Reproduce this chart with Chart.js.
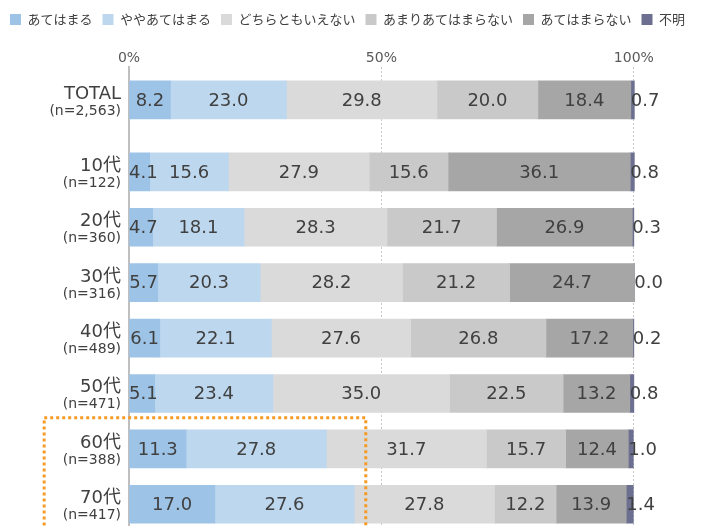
<!DOCTYPE html>
<html><head><meta charset="utf-8">
<script src="https://cdn.jsdelivr.net/npm/chart.js@4/dist/chart.umd.min.js"></script>
<style>html,body{margin:0;padding:0;overflow:hidden;background:#fff}#wrap{width:702px;height:532px}</style>
</head><body><div id="wrap"><canvas id="c" width="702" height="532"></canvas></div>
<script>
// ---- data ----
const totalLabel = ['TOTAL'];
const totalN = ['(n=2,563)'];
const ageLabels = ['10代', '20代', '30代', '40代', '50代', '60代', '70代'];
const ageN = ['(n=122)', '(n=360)', '(n=316)', '(n=489)', '(n=471)', '(n=388)', '(n=417)'];
const seriesNames = ['あてはまる', 'ややあてはまる', 'どちらともいえない', 'あまりあてはまらない', 'あてはまらない', '不明'];
// index 0 = TOTAL, then 10代 … 70代
const atehamaru      = [8.2, 4.1, 4.7, 5.7, 6.1, 5.1, 11.3, 17.0];
const yayaAtehamaru  = [23.0, 15.6, 18.1, 20.3, 22.1, 23.4, 27.8, 27.6];
const dochiramo      = [29.8, 27.9, 28.3, 28.2, 27.6, 35.0, 31.7, 27.8];
const amariAtehamaranai = [20.0, 15.6, 21.7, 21.2, 26.8, 22.5, 15.7, 12.2];
const atehamaranai   = [18.4, 36.1, 26.9, 24.7, 17.2, 13.2, 12.4, 13.9];
const fumei          = [0.7, 0.8, 0.3, 0.0, 0.2, 0.8, 1.0, 1.4];
const xTickValues = [0, 50, 100];

// ---- styles ----
const seriesValues = [atehamaru, yayaAtehamaru, dochiramo, amariAtehamaranai, atehamaranai, fumei];
const colors = ['#9DC3E6', '#BDD7EE', '#DADADA', '#C9C9C9', '#A6A6A6', '#6C6F8F'];
const highlightX = [-16.8, 46.9];
const highlightRows = [4.44, 6.7];

const datasets = seriesNames.map((name, k) => ({
  label: name, data: [seriesValues[k][0]], yAxisID: 'yTotal', stack: 'all', grouped: false,
  backgroundColor: colors[k], barThickness: 38, borderWidth: 0
})).concat(seriesNames.map((name, k) => ({
  label: name, data: seriesValues[k].slice(1), yAxisID: 'yAge', stack: 'all', grouped: false,
  backgroundColor: colors[k], barThickness: 38, borderWidth: 0
})));

const FONT_NUM = "'DejaVu Sans', 'Noto Sans CJK JP', sans-serif";

const valueLabels = {
  id: 'valueLabels',
  afterDatasetsDraw(chart) {
    const ctx = chart.ctx, area = chart.chartArea;
    ctx.save();
    ctx.font = '18px ' + FONT_NUM;
    ctx.fillStyle = '#404040';
    ctx.textBaseline = 'middle';
    chart.data.datasets.forEach((ds, di) => {
      const meta = chart.getDatasetMeta(di);
      const k = di % seriesNames.length;
      meta.data.forEach((bar, i) => {
        const txt = Number(ds.data[i]).toFixed(1);
        const p = bar.getProps(['x', 'y', 'base'], true);
        if (k === seriesNames.length - 1) {
          ctx.textAlign = 'left';
          ctx.fillText(txt, p.base, p.y + 1);
        } else {
          const w = ctx.measureText(txt).width;
          let cx = (p.x + p.base) / 2;
          cx = Math.max(cx, area.left + w / 2);
          ctx.textAlign = 'center';
          ctx.fillText(txt, cx, p.y + 1);
        }
      });
    });
    ctx.restore();
  }
};

const rowLabels = {
  id: 'rowLabels',
  afterDraw(chart) {
    const ctx = chart.ctx;
    const x = chart.chartArea.left - 8;
    ctx.save();
    ctx.fillStyle = '#404040';
    ctx.textAlign = 'right';
    ctx.textBaseline = 'alphabetic';
    [[chart.scales.yTotal, totalLabel, totalN], [chart.scales.yAge, ageLabels, ageN]].forEach(([sc, l1, l2]) => {
      l1.forEach((t, i) => {
        const y = sc.getPixelForValue(i);
        ctx.font = '18px ' + FONT_NUM;
        ctx.fillText(t, x, y - 1);
        ctx.font = '14px ' + FONT_NUM;
        ctx.fillText(l2[i], x, y + 15);
      });
    });
    ctx.restore();
  }
};

const highlight = {
  id: 'highlight',
  afterDraw(chart) {
    const ctx = chart.ctx, xs = chart.scales.x, ys = chart.scales.yAge;
    const x1 = xs.getPixelForValue(highlightX[0]), x2 = xs.getPixelForValue(highlightX[1]);
    const y1 = ys.getPixelForValue(highlightRows[0]), y2 = ys.getPixelForValue(highlightRows[1]);
    ctx.save();
    ctx.strokeStyle = '#F59B23';
    ctx.lineWidth = 3;
    ctx.setLineDash([3, 3]);
    ctx.strokeRect(x1, y1, x2 - x1, y2 - y1);
    ctx.restore();
  }
};

const yCommon = {
  type: 'category', position: 'left', stack: 'rows', stacked: true, offset: true,
  ticks: { display: false }, grid: { display: false },
  border: { display: true, color: '#BFBFBF', width: 2 },
  afterFit: s => { s.width = 129; }
};

new Chart(document.getElementById('c'), {
  type: 'bar',
  data: { datasets },
  options: {
    indexAxis: 'y',
    responsive: false,
    animation: false,
    devicePixelRatio: 1,
    layout: { padding: { top: 3 } },
    plugins: {
      legend: {
        position: 'top', align: 'start',
        labels: {
          boxWidth: 11, boxHeight: 11, padding: 10, color: '#404040',
          font: { family: "'Noto Sans CJK JP', sans-serif", size: 13 },
          filter: item => item.datasetIndex < seriesNames.length
        }
      },
      tooltip: { enabled: false }
    },
    scales: {
      x: {
        type: 'linear', position: 'top', min: 0, max: 113.5, stacked: true,
        afterBuildTicks: s => { s.ticks = xTickValues.map(v => ({ value: v })); },
        ticks: { callback: v => v + '%', color: '#595959', font: { family: FONT_NUM, size: 14 }, padding: 0 },
        grid: { color: c => (c.tick && c.tick.value === 0) ? 'rgba(0,0,0,0)' : '#C8C8C8', drawTicks: false, lineWidth: 1 },
        border: { display: false, dash: [2, 2] },
        afterFit: s => { s.height = 31; }
      },
      yTotal: Object.assign({}, yCommon, { labels: totalLabel, stackWeight: 66, weight: 3 }),
      yGap: Object.assign({}, yCommon, { labels: [''], stackWeight: 11.25, weight: 2 }),
      yAge: Object.assign({}, yCommon, { labels: ageLabels, stackWeight: 388.5, weight: 1 })
    }
  },
  plugins: [valueLabels, rowLabels, highlight]
});
</script>
</body></html>
